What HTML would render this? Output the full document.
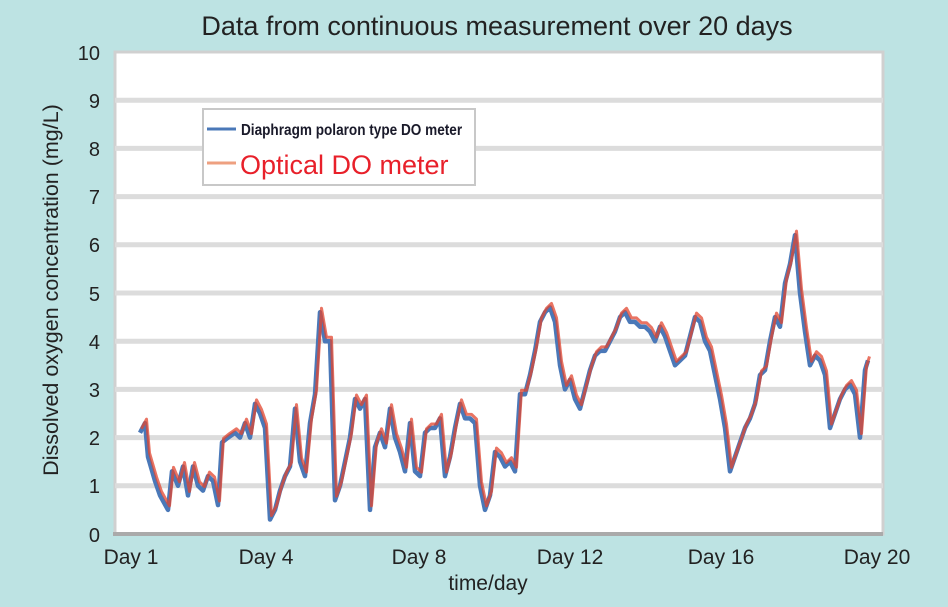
<!DOCTYPE html>
<html><head><meta charset="utf-8"><style>
body{margin:0;background:#bde3e3;}
svg{display:block;font-family:"Liberation Sans",sans-serif;}
</style></head><body>
<svg width="948" height="607" viewBox="0 0 948 607">
<rect width="948" height="607" fill="#bde3e3"/>
<rect x="115" y="52" width="768" height="482" fill="#fff" stroke="#d0d0d0" stroke-width="3"/>
<g stroke="#dcdcdc" stroke-width="5">
<line x1="115" x2="883" y1="485.8" y2="485.8"/>
<line x1="115" x2="883" y1="437.6" y2="437.6"/>
<line x1="115" x2="883" y1="389.4" y2="389.4"/>
<line x1="115" x2="883" y1="341.2" y2="341.2"/>
<line x1="115" x2="883" y1="293" y2="293"/>
<line x1="115" x2="883" y1="244.8" y2="244.8"/>
<line x1="115" x2="883" y1="196.6" y2="196.6"/>
<line x1="115" x2="883" y1="148.4" y2="148.4"/>
<line x1="115" x2="883" y1="100.2" y2="100.2"/>
</g>
<line x1="113" x2="883" y1="534" y2="534" stroke="#aaa" stroke-width="4"/>
<g font-size="20" fill="#222" text-anchor="end">
<text x="100" y="542">0</text><text x="100" y="493">1</text><text x="100" y="445">2</text>
<text x="100" y="397">3</text><text x="100" y="349">4</text><text x="100" y="301">5</text>
<text x="100" y="252">6</text><text x="100" y="204">7</text><text x="100" y="156">8</text>
<text x="100" y="108">9</text><text x="100" y="60">10</text>
</g>
<g font-size="21" fill="#222" text-anchor="middle">
<text x="131" y="564">Day 1</text><text x="266" y="564">Day 4</text><text x="419" y="564">Day 8</text>
<text x="570" y="564">Day 12</text><text x="721" y="564">Day 16</text><text x="877" y="564">Day 20</text>
<text x="488" y="590">time/day</text>
</g>
<text x="497" y="35" font-size="27" fill="#222" text-anchor="middle">Data from continuous measurement over 20 days</text>
<text transform="translate(58,290) rotate(-90)" font-size="21.5" fill="#222" text-anchor="middle">Dissolved oxygen concentration (mg/L)</text>
<g transform="translate(0,534) scale(1,-48.2)" fill="none" stroke-linejoin="round">
<polyline vector-effect="non-scaling-stroke" stroke="#4a78b8" stroke-width="4.5" points="140,2.1 145,2.3 148,1.6 155,1.1 160,0.8 168,0.5 172,1.3 178,1.0 183,1.4 188,0.8 193,1.4 198,1.0 203,0.9 208,1.2 213,1.1 218,0.6 222,1.9 228,2.0 235,2.1 240,2.0 245,2.3 250,2.0 255,2.7 260,2.5 265,2.2 270,0.3 275,0.5 280,0.9 285,1.2 290,1.4 295,2.6 300,1.5 305,1.2 310,2.3 315,2.9 320,4.6 325,4.0 330,4.0 335,0.7 340,1.0 345,1.5 350,2.0 355,2.8 360,2.6 365,2.8 370,0.5 375,1.8 380,2.1 385,1.8 390,2.6 395,2.0 400,1.7 405,1.3 410,2.3 415,1.3 420,1.2 425,2.1 430,2.2 435,2.2 440,2.4 445,1.2 450,1.6 455,2.2 460,2.7 465,2.4 470,2.4 475,2.3 480,1.0 485,0.5 490,0.8 495,1.7 500,1.6 505,1.4 510,1.5 515,1.3 520,2.9 525,2.9 530,3.3 535,3.8 540,4.4 545,4.6 550,4.7 555,4.4 560,3.5 565,3.0 570,3.2 575,2.8 580,2.6 585,3.0 590,3.4 595,3.7 600,3.8 605,3.8 610,4.0 615,4.2 620,4.5 625,4.6 630,4.4 635,4.4 640,4.3 645,4.3 650,4.2 655,4.0 660,4.3 665,4.1 670,3.8 675,3.5 680,3.6 685,3.7 690,4.1 695,4.5 700,4.4 705,4.0 710,3.8 715,3.3 720,2.8 725,2.2 730,1.3 735,1.6 740,1.9 745,2.2 750,2.4 755,2.7 760,3.3 765,3.4 770,4.0 775,4.5 780,4.3 785,5.2 790,5.6 795,6.2 800,5.0 805,4.2 810,3.5 815,3.7 820,3.6 825,3.3 830,2.2 835,2.5 840,2.8 845,3.0 850,3.1 855,2.9 860,2.0 865,3.4 868,3.6"/>
</g>
<g transform="translate(1.5,530) scale(1,-48.2)" fill="none" stroke-linejoin="round">
<polyline vector-effect="non-scaling-stroke" stroke="#e2452f" stroke-opacity="0.75" stroke-width="3" points="140,2.1 145,2.3 148,1.6 155,1.1 160,0.8 168,0.5 172,1.3 178,1.0 183,1.4 188,0.8 193,1.4 198,1.0 203,0.9 208,1.2 213,1.1 218,0.6 222,1.9 228,2.0 235,2.1 240,2.0 245,2.3 250,2.0 255,2.7 260,2.5 265,2.2 270,0.3 275,0.5 280,0.9 285,1.2 290,1.4 295,2.6 300,1.5 305,1.2 310,2.3 315,2.9 320,4.6 325,4.0 330,4.0 335,0.7 340,1.0 345,1.5 350,2.0 355,2.8 360,2.6 365,2.8 370,0.5 375,1.8 380,2.1 385,1.8 390,2.6 395,2.0 400,1.7 405,1.3 410,2.3 415,1.3 420,1.2 425,2.1 430,2.2 435,2.2 440,2.4 445,1.2 450,1.6 455,2.2 460,2.7 465,2.4 470,2.4 475,2.3 480,1.0 485,0.5 490,0.8 495,1.7 500,1.6 505,1.4 510,1.5 515,1.3 520,2.9 525,2.9 530,3.3 535,3.8 540,4.4 545,4.6 550,4.7 555,4.4 560,3.5 565,3.0 570,3.2 575,2.8 580,2.6 585,3.0 590,3.4 595,3.7 600,3.8 605,3.8 610,4.0 615,4.2 620,4.5 625,4.6 630,4.4 635,4.4 640,4.3 645,4.3 650,4.2 655,4.0 660,4.3 665,4.1 670,3.8 675,3.5 680,3.6 685,3.7 690,4.1 695,4.5 700,4.4 705,4.0 710,3.8 715,3.3 720,2.8 725,2.2 730,1.3 735,1.6 740,1.9 745,2.2 750,2.4 755,2.7 760,3.3 765,3.4 770,4.0 775,4.5 780,4.3 785,5.2 790,5.6 795,6.2 800,5.0 805,4.2 810,3.5 815,3.7 820,3.6 825,3.3 830,2.2 835,2.5 840,2.8 845,3.0 850,3.1 855,2.9 860,2.0 865,3.4 868,3.6"/>
</g>
<rect x="203" y="109" width="272" height="76" fill="#fff" stroke="#c8c8c8" stroke-width="2"/>
<line x1="207" x2="236" y1="129" y2="129" stroke="#4a78b8" stroke-width="3"/>
<line x1="207" x2="236" y1="163" y2="163" stroke="#eea080" stroke-width="3"/>
<text x="241" y="135" font-size="16" fill="#1a1a2a" font-weight="bold" transform="translate(241,0) scale(0.85,1) translate(-241,0)">Diaphragm polaron type DO meter</text>
<text x="240" y="174" font-size="27" fill="#e8202a">Optical DO meter</text>
</svg>
</body></html>
